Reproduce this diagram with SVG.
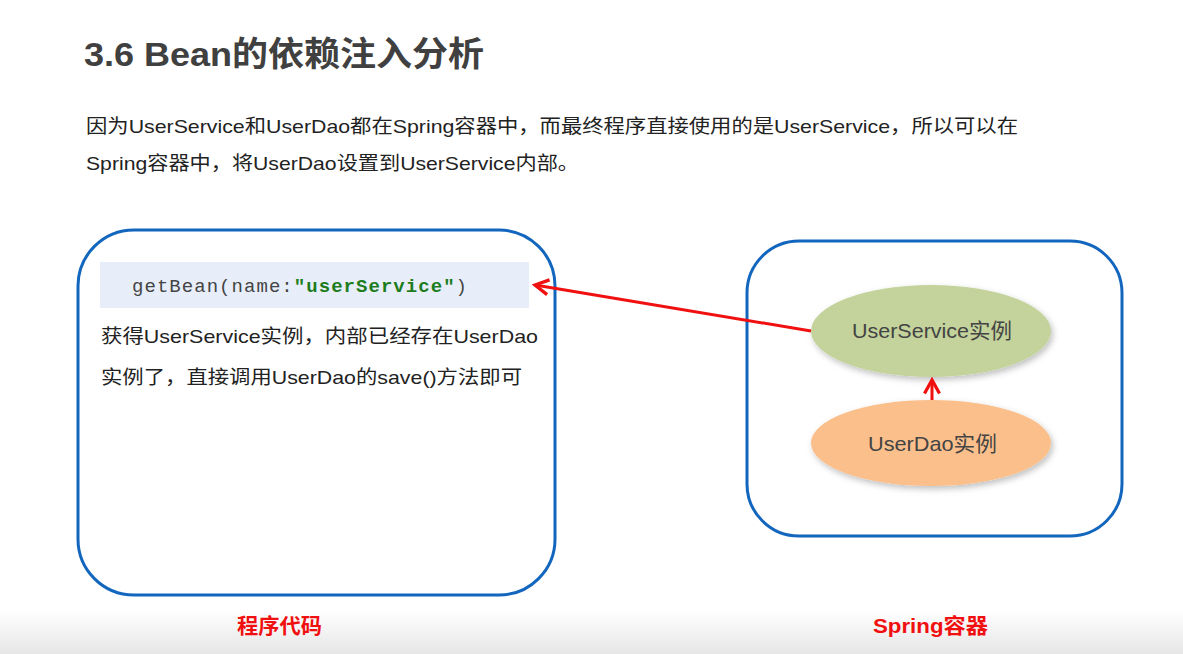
<svg xmlns="http://www.w3.org/2000/svg" width="1183" height="654" viewBox="0 0 1183 654">
<style>
.box{fill:#fff;stroke:#1366be;stroke-width:3}
.cjk{font-family:"Liberation Sans","Noto Sans CJK SC",sans-serif}
.body{font-size:19px;fill:#222}
.lbl{font-size:21px;fill:#f01010;font-weight:bold}
.code{font-family:"Liberation Mono","DejaVu Sans Mono",monospace;font-size:19px;fill:#444}
.edge{stroke:#f01010;stroke-width:3;fill:none}
.nl{font-size:21px;fill:#444}
</style>
<defs>
<linearGradient id="bot" x1="0" y1="0" x2="0" y2="1">
<stop offset="0" stop-color="#ffffff"/>
<stop offset="1" stop-color="#e6e6e6"/>
</linearGradient>
<filter id="sh" x="-20%" y="-20%" width="140%" height="150%">
<feDropShadow dx="2" dy="3" stdDeviation="3" flood-color="#000" flood-opacity="0.25"/>
</filter>
<marker id="ah" viewBox="0 0 12 12" refX="10" refY="6" markerWidth="6" markerHeight="6" orient="auto" markerUnits="strokeWidth">
<path d="M1,1 L10,6 L1,11" fill="none" stroke="#f01010" stroke-width="2.2"/>
</marker>
</defs>
<rect width="1183" height="654" fill="#fff"/>
<rect y="610" width="1183" height="44" fill="url(#bot)"/>
<text x="84" y="66" class="cjk" font-size="34" font-weight="bold" fill="#404040" textLength="400" lengthAdjust="spacingAndGlyphs">3.6 Bean的依赖注入分析</text>
<text x="86" y="133" class="cjk body" textLength="932" lengthAdjust="spacingAndGlyphs">因为UserService和UserDao都在Spring容器中，而最终程序直接使用的是UserService，所以可以在</text>
<text x="86" y="170" class="cjk body" textLength="493" lengthAdjust="spacingAndGlyphs">Spring容器中，将UserDao设置到UserService内部。</text>
<g id="program">
<rect class="box" x="78" y="230" width="477" height="365" rx="56"/>
<rect x="100" y="262" width="429" height="46" fill="#e7eef9"/>
<text x="132" y="292" class="code" textLength="335" lengthAdjust="spacing">getBean(name:<tspan fill="#1d7d1d" font-weight="bold">"userService"</tspan>)</text>
<text x="101" y="343" class="cjk body" textLength="437" lengthAdjust="spacingAndGlyphs">获得UserService实例，内部已经存在UserDao</text>
<text x="101" y="384" class="cjk body" textLength="421" lengthAdjust="spacingAndGlyphs">实例了，直接调用UserDao的save()方法即可</text>
<text x="237" y="633" class="cjk lbl" textLength="85" lengthAdjust="spacingAndGlyphs">程序代码</text>
</g>
<g id="spring">
<rect class="box" x="747" y="241" width="375" height="295" rx="52"/>
<text x="873" y="633" class="cjk lbl" textLength="115" lengthAdjust="spacingAndGlyphs">Spring容器</text>
</g>
<g id="userService">
<ellipse cx="931" cy="331" rx="120" ry="46" fill="#c3d39b" filter="url(#sh)"/>
<text x="852" y="338" class="cjk nl" textLength="160" lengthAdjust="spacingAndGlyphs">UserService实例</text>
</g>
<g id="userDao">
<ellipse cx="931" cy="443" rx="120" ry="43" fill="#fbbf8b" filter="url(#sh)"/>
<text x="868" y="451" class="cjk nl" textLength="129" lengthAdjust="spacingAndGlyphs">UserDao实例</text>
</g>
<g id="connectors">
<line class="edge" x1="811" y1="331" x2="535" y2="285" marker-end="url(#ah)"/>
<line class="edge" x1="932" y1="400" x2="932" y2="380" marker-end="url(#ah)"/>
</g>
</svg>
